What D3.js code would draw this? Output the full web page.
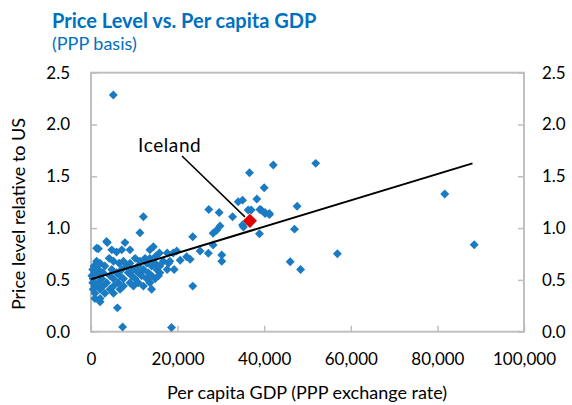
<!DOCTYPE html>
<html><head><meta charset="utf-8">
<script src="https://cdn.jsdelivr.net/npm/d3@7"></script>
<style>body{margin:0;background:#fff}svg{display:block}text{font-family:Lato,"Open Sans",sans-serif}</style>
</head><body>
<svg id="c" width="572" height="405"></svg>
<script>
// Per capita GDP (PPP, US$) for each country
const gdp = [
  5150, 36600, 42100, 51900, 40000, 38300, 47600, 39300, 40200, 41200, 37000, 47000, 38900,
  81700, 88500, 56900, 46000, 48400,
  34000, 35000, 27200, 29600, 32700, 39000, 40200, 41200, 36300, 35200, 12100,
  29800, 29000, 28200, 35000, 11300, 23500, 28200, 25200, 27100, 30200, 30200, 19800, 22100, 22900, 23500, 20600,
  6100, 7300, 18600,
  3770, 7850, 1700, 4800, 7100, 9000, 13600, 14400, 15800, 17600, 19000, 5900, 15000,
  4200, 10200, 12500, 13600,
  1300, 5200, 7500, 11300, 16700, 18200,
  2100, 6500, 9000, 12900, 14800, 17900,
  700, 3200, 8200, 10900, 14000, 15900,
  400, 1700, 4800, 7100, 9800, 12100, 15200, 17600, 19200,
  900, 2800, 5900, 8600, 10900, 13200, 15900,
  200, 2100, 4400, 6700, 9400, 11700, 14000, 15600,
  500, 2500, 5200, 7500, 10200, 12900, 14800,
  400, 1700, 3600, 6300, 9000, 10900, 13600,
  900, 2800, 5200, 7500, 9800, 12100,
  500, 2100, 4400, 6700, 14000,
  900, 3200, 5200,
  900, 2100, 2100,
  1300, 3600, 2100, 1700
];
// Price level relative to US
const price = [
  2.285, 1.535, 1.61, 1.625, 1.39, 1.28, 1.21, 1.175, 1.14, 1.14, 1.175, 0.99, 0.946,
  1.33, 0.84, 0.753, 0.676, 0.60,
  1.255, 1.27, 1.18, 1.15, 1.11, 1.18, 1.15, 1.13, 1.175, 1.01, 1.11,
  1.02, 0.98, 0.95, 1.03, 0.955, 0.917, 0.837, 0.779, 0.757, 0.74, 0.68, 0.779, 0.724, 0.70, 0.44, 0.69,
  0.23, 0.045, 0.04,
  0.86, 0.86, 0.80, 0.79, 0.79, 0.79, 0.79, 0.82, 0.76, 0.76, 0.76, 0.77, 0.73,
  0.708, 0.708, 0.708, 0.708,
  0.68, 0.68, 0.68, 0.68, 0.68, 0.68,
  0.66, 0.66, 0.66, 0.66, 0.66, 0.66,
  0.634, 0.634, 0.634, 0.634, 0.634, 0.634,
  0.60, 0.60, 0.60, 0.60, 0.60, 0.60, 0.60, 0.60, 0.60,
  0.57, 0.57, 0.57, 0.57, 0.57, 0.57, 0.57,
  0.54, 0.54, 0.54, 0.54, 0.54, 0.54, 0.54, 0.54,
  0.51, 0.51, 0.51, 0.51, 0.51, 0.51, 0.51,
  0.473, 0.473, 0.473, 0.473, 0.473, 0.473, 0.473,
  0.44, 0.44, 0.44, 0.44, 0.44, 0.44,
  0.41, 0.41, 0.41, 0.41, 0.41,
  0.37, 0.37, 0.37,
  0.32, 0.32, 0.29,
  0.805, 0.87, 0.56, 0.44
];
const iceland = {label: "Iceland", gdp: 36700, price: 1.07};
const trendGdp = [0, 88100];
const trendPrice = [0.506, 1.625];
const yTicks = [0, 0.5, 1.0, 1.5, 2.0, 2.5];
const xTicks = [0, 20000, 40000, 60000, 80000, 100000];

const svg = d3.select("#c");
const x = d3.scaleLinear().domain([0, 100000]).range([91, 524]);
const y = d3.scaleLinear().domain([0, 2.5]).range([331.7, 72.7]);
const gray = "#BFBFBF";

// plot frame
svg.append("rect").attr("x", x(0)).attr("y", y(2.5))
  .attr("width", x(100000) - x(0)).attr("height", y(0) - y(2.5))
  .attr("fill", "none").attr("stroke", gray).attr("stroke-width", 2);

const fmtY = d3.format(".1f");
const fmtX = d3.format(",");
const axStyle = g => {
  g.select(".domain").remove();
  g.selectAll(".tick line").attr("stroke", gray).attr("stroke-width", 1.5);
  g.selectAll(".tick text").attr("fill", "#000").attr("font-size", 17).attr("font-family", "Lato, sans-serif");
};
svg.append("g").attr("transform", `translate(${x(0)},0)`)
  .call(d3.axisRight(y).tickValues(yTicks).tickFormat(fmtY).tickSize(6))
  .call(axStyle).call(g => g.selectAll(".tick text").attr("text-anchor", "end").attr("x", -21));
svg.append("g").attr("transform", `translate(${x(100000)},0)`)
  .call(d3.axisLeft(y).tickValues(yTicks).tickFormat(fmtY).tickSize(6))
  .call(axStyle).call(g => g.selectAll(".tick text").attr("text-anchor", "start").attr("x", 18));
svg.append("g").attr("transform", `translate(0,${y(0)})`)
  .call(d3.axisTop(x).tickValues(xTicks).tickFormat(fmtX).tickSize(6))
  .call(axStyle).call(g => g.selectAll(".tick text").attr("dy", 0).attr("y", 33));

// points
const pts = gdp.map((g, i) => ({g, p: price[i]}));
const blue = d3.symbol(d3.symbolSquare, 40);
svg.append("g").selectAll("path").data(pts).join("path")
  .attr("d", blue)
  .attr("transform", d => `translate(${x(d.g)},${y(d.p)}) rotate(45)`)
  .attr("fill", "#1B7BC2");

// trend line
svg.append("line")
  .attr("x1", x(trendGdp[0])).attr("y1", y(trendPrice[0]))
  .attr("x2", x(trendGdp[1])).attr("y2", y(trendPrice[1]))
  .attr("stroke", "#000").attr("stroke-width", 2);

// Iceland
svg.append("line").attr("x1", 182).attr("y1", 156)
  .attr("x2", x(iceland.gdp) - 5).attr("y2", y(iceland.price) - 4)
  .attr("stroke", "#000").attr("stroke-width", 1.5);
svg.append("path").attr("d", d3.symbol(d3.symbolSquare, 100))
  .attr("transform", `translate(${x(iceland.gdp)},${y(iceland.price)}) rotate(45)`)
  .attr("fill", "#E00000");
svg.append("text").attr("x", 138).attr("y", 152).attr("font-size", 19)
  .attr("letter-spacing", 0.6).text(iceland.label);

// titles
svg.append("text").attr("x", 52).attr("y", 28).attr("font-size", 20).attr("font-weight", "bold")
  .attr("fill", "#0070C0").text("Price Level vs. Per capita GDP");
svg.append("text").attr("x", 52).attr("y", 50).attr("font-size", 18)
  .attr("fill", "#0070C0").text("(PPP basis)");
svg.append("text").attr("x", 307).attr("y", 399).attr("text-anchor", "middle").attr("font-size", 18)
  .text("Per capita GDP (PPP exchange rate)");
svg.append("text").attr("transform", "translate(25,214) rotate(-90)").attr("text-anchor", "middle")
  .attr("font-size", 18).text("Price level relative to US");
</script>
</body></html>
